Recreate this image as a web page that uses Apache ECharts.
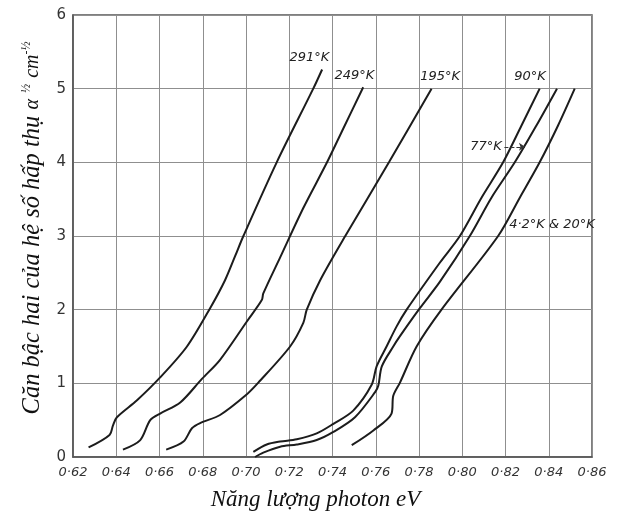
<!DOCTYPE html>
<html>
<head>
<meta charset="utf-8">
<script src="https://cdn.jsdelivr.net/npm/echarts@6/dist/echarts.min.js"></script>
<style>html,body{margin:0;padding:0;background:#fff}#c{width:628px;height:516px}</style>
</head>
<body>
<div id="c"></div>
<script>
// Data (x: photon energy eV, y: alpha^1/2 cm^-1/2)
const xTicks = [0.62,0.64,0.66,0.68,0.70,0.72,0.74,0.76,0.78,0.80,0.82,0.84,0.86];
const yTicks = [0,1,2,3,4,5,6];
const t291 = [[0.6272,0.13],[0.6369,0.30],[0.6385,0.43],[0.6403,0.54],[0.6496,0.77],[0.6603,1.08],[0.6727,1.50],[0.6834,2.02],[0.6903,2.40],[0.6950,2.73],[0.6988,3.00],[0.7142,4.00],[0.7311,5.00],[0.7352,5.26]];
const t249 = [[0.6431,0.10],[0.6511,0.23],[0.6557,0.50],[0.6603,0.59],[0.6696,0.74],[0.6796,1.06],[0.6880,1.32],[0.7004,1.84],[0.7073,2.13],[0.7080,2.22],[0.7158,2.71],[0.7265,3.38],[0.7373,3.99],[0.7450,4.46],[0.7542,5.02]];
const t195 = [[0.6631,0.10],[0.6711,0.21],[0.6750,0.39],[0.6788,0.46],[0.6880,0.57],[0.6996,0.83],[0.7057,1.01],[0.7204,1.50],[0.7265,1.82],[0.7281,2.00],[0.7343,2.40],[0.7459,3.00],[0.7661,4.00],[0.7858,5.00]];
const t90 = [[0.7034,0.07],[0.7096,0.17],[0.7158,0.21],[0.7235,0.24],[0.7327,0.32],[0.7404,0.45],[0.7496,0.63],[0.7581,0.98],[0.7604,1.23],[0.7650,1.50],[0.7696,1.77],[0.7743,2.00],[0.7897,2.64],[0.7989,3.00],[0.8089,3.52],[0.8189,4.00],[0.8274,4.50],[0.8358,5.00]];
const t77 = [[0.7042,0.00],[0.7080,0.06],[0.7158,0.14],[0.7235,0.17],[0.7327,0.23],[0.7404,0.34],[0.7504,0.54],[0.7597,0.88],[0.7612,0.97],[0.7628,1.23],[0.7681,1.50],[0.7712,1.64],[0.7804,2.02],[0.7897,2.38],[0.8035,3.00],[0.8135,3.52],[0.8243,4.00],[0.8343,4.50],[0.8438,5.00]];
const t4 = [[0.7489,0.16],[0.7589,0.36],[0.7673,0.59],[0.7681,0.83],[0.7712,1.01],[0.7789,1.50],[0.7904,2.00],[0.8166,3.00],[0.8266,3.52],[0.8358,4.00],[0.8443,4.50],[0.8520,5.00]];
const seriesNames = ['291°K','249°K','195°K','90°K','77°K','4·2°K & 20°K'];

const chart = echarts.init(document.getElementById('c'));
const lblFont = {fontFamily:'DejaVu Sans', fontStyle:'italic', fontSize:13, color:'#222'};
function mk(name, data, lblCoord, extra) {
  const s = {
    name: name, type:'line', data: data, smooth: 0.3, symbol:'none',
    lineStyle:{color:'#1c1c1c', width:2}, z:3,
    markPoint: {
      symbol:'circle', symbolSize:0, silent:true,
      data: lblCoord ? [{coord: lblCoord, label:{show:true, position:'inside', formatter: name, ...lblFont}}] : []
    }
  };
  return Object.assign(s, extra || {});
}
const option = {
  animation:false,
  backgroundColor:'#fff',
  grid:{left:73, right:36, top:15, bottom:54, show:true, borderColor:'#555', borderWidth:1.5},
  xAxis:{
    type:'value', min:0.62, max:0.86, interval:0.02,
    axisLine:{show:true, lineStyle:{color:'#555', width:1.5}},
    axisTick:{show:false},
    splitLine:{show:true, lineStyle:{color:'#8f8f8f', width:1}},
    axisLabel:{margin:9, fontFamily:'DejaVu Sans', fontStyle:'italic', fontSize:13, color:'#333',
      formatter: v => v.toFixed(2).replace('.', '·')},
    name:'Năng lượng photon eV', nameLocation:'middle', nameGap:31,
    nameTextStyle:{fontFamily:'Liberation Serif', fontStyle:'italic', fontSize:23, color:'#111', padding:[0,34,0,0]}
  },
  yAxis:{
    type:'value', min:0, max:6, interval:1,
    axisLine:{show:true, lineStyle:{color:'#555', width:1.5}},
    axisTick:{show:false},
    splitLine:{show:true, lineStyle:{color:'#8f8f8f', width:1}},
    axisLabel:{margin:7, fontFamily:'DejaVu Sans', fontSize:15, color:'#333'},
    name:'Căn bậc hai của hệ số hấp thụ {a|α} {f|½} {a|cm}{f|-½}', nameLocation:'middle', nameGap:27, nameRotate:90,
    nameTextStyle:{fontFamily:'Liberation Serif', fontStyle:'italic', fontSize:24.5, color:'#111', padding:[0,0,0,16],
      rich:{
        a:{fontFamily:'Liberation Serif', fontStyle:'italic', fontSize:20, color:'#111'},
        f:{fontFamily:'Liberation Serif', fontStyle:'italic', fontSize:12, color:'#111', padding:[0,0,12,0]}
      }}
  },
  series:[
    mk(seriesNames[0], t291, [0.7293,5.42]),
    mk(seriesNames[1], t249, [0.7501,5.18]),
    mk(seriesNames[2], t195, [0.7898,5.17]),
    mk(seriesNames[3], t90, [0.8313,5.17]),
    mk(seriesNames[4], t77, [0.8110,4.21], {
      markLine:{silent:true, symbol:['none','arrow'], symbolSize:6,
        lineStyle:{color:'#333', width:1, type:'dashed'}, label:{show:false},
        data:[[{coord:[0.8195,4.21]},{coord:[0.8290,4.21]}]]}
    }),
    mk(seriesNames[5], t4, [0.8415,3.15])
  ]
};
chart.setOption(option);
</script>
</body>
</html>
